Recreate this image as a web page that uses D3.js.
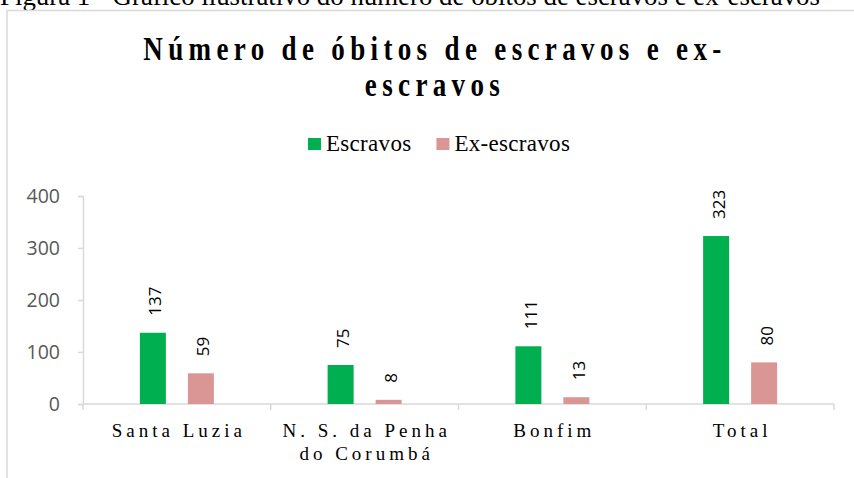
<!DOCTYPE html>
<html>
<head>
<meta charset="utf-8">
<script src="https://cdn.jsdelivr.net/npm/d3@7"></script>
<style>
  html, body { margin: 0; padding: 0; background: #fff; }
  svg { display: block; }
</style>
</head>
<body>
<svg id="chart" width="854" height="478"></svg>
<script>
const categories = ["Santa Luzia", "N. S. da Penha|do Corumbá", "Bonfim", "Total"];
const seriesNames = ["Escravos", "Ex-escravos"];
const escravos = [137, 75, 111, 323];
const exEscravos = [59, 8, 13, 80];
const yTicks = [0, 100, 200, 300, 400];
const colors = ["#00B050", "#DA9694"];
const caption = "Figura 1 - Gráfico ilustrativo do número de óbitos de escravos e ex-escravos";
const titleLines = ["Número de óbitos de escravos e ex-", "escravos"];

const svg = d3.select("#chart");
const serif = "'Liberation Serif', 'Times New Roman', serif";
const sans = "'Open Sans', 'Liberation Sans', sans-serif";

// caption (cut at top)
const cap = svg.append("text").attr("x", 0).attr("y", 5)
  .attr("font-family", serif).attr("font-size", 28).attr("fill", "#000")
  .text(caption);
cap.attr("textLength", 820).attr("lengthAdjust", "spacingAndGlyphs");

// chart border
svg.append("rect").attr("x", 7).attr("y", 10.5).attr("width", 860).attr("height", 480)
  .attr("fill", "none").attr("stroke", "#D9D9D9").attr("stroke-width", 1.5);

// title (slightly condensed glyphs, wide tracking)
titleLines.forEach((t, i) => {
  svg.append("text")
    .attr("transform", `translate(435,${60 + i * 36}) scale(0.82,1)`)
    .attr("text-anchor", "middle")
    .attr("font-family", serif).attr("font-weight", "bold")
    .attr("font-size", 33).attr("letter-spacing", 6.5)
    .attr("fill", "#000").text(t);
});

// legend
const legend = svg.append("g");
let lx = 308;
seriesNames.forEach((s, i) => {
  legend.append("rect").attr("x", lx).attr("y", 138).attr("width", 13).attr("height", 12)
    .attr("fill", colors[i]);
  const tx = legend.append("text").attr("x", lx + 18).attr("y", 151)
    .attr("font-family", serif).attr("font-size", 23).attr("letter-spacing", 0.3)
    .attr("fill", "#000").text(s);
  lx += 18 + tx.node().getComputedTextLength() + 25;
});

// scales
const x = d3.scaleBand().domain(categories).range([83, 834]).padding(0);
const inner = d3.scaleBand().domain(seriesNames).range([-37, 37]).paddingInner(22 / 48).paddingOuter(0);
const y = d3.scaleLinear().domain([0, 400]).range([404, 196]);

// y axis
const yAxis = svg.append("g").attr("transform", "translate(83,0)")
  .call(d3.axisLeft(y).tickValues(yTicks).tickSize(5).tickPadding(18).tickFormat(d3.format("d")));
yAxis.select(".domain").attr("stroke", "#D9D9D9").attr("stroke-width", 1.5);
yAxis.selectAll(".tick line").attr("stroke", "#D9D9D9").attr("stroke-width", 1.5);
yAxis.selectAll(".tick text").attr("font-family", sans).attr("font-size", 19.5).attr("fill", "#595959");

// x axis line & boundary ticks
const xg = svg.append("g");
xg.append("line").attr("x1", x.range()[0]).attr("x2", x.range()[1]).attr("y1", y(0)).attr("y2", y(0))
  .attr("stroke", "#D9D9D9").attr("stroke-width", 1.5);
const bounds = categories.map(c => x(c)).concat([x.range()[1]]);
xg.selectAll("line.b").data(bounds).join("line").attr("class", "b")
  .attr("x1", d => d).attr("x2", d => d).attr("y1", y(0)).attr("y2", y(0) + 6)
  .attr("stroke", "#D9D9D9").attr("stroke-width", 1.5);

// category labels
categories.forEach(c => {
  const lines = c.split("|");
  const cx = x(c) + x.bandwidth() / 2 + 2;
  const t = svg.append("text").attr("text-anchor", "middle")
    .attr("font-family", serif).attr("font-size", 19).attr("letter-spacing", 4).attr("fill", "#000");
  lines.forEach((l, i) => {
    t.append("tspan").attr("x", cx).attr("y", 437 + i * 23).text(l);
  });
});

// bars
const data = categories.map((c, i) => ({ c, vals: [escravos[i], exEscravos[i]] }));
const groups = svg.selectAll("g.cat").data(data).join("g").attr("class", "cat")
  .attr("transform", d => `translate(${x(d.c) + x.bandwidth() / 2},0)`);
groups.selectAll("rect").data(d => d.vals.map((v, j) => ({ s: seriesNames[j], v, j })))
  .join("rect")
  .attr("x", d => inner(d.s)).attr("width", inner.bandwidth())
  .attr("y", d => y(d.v)).attr("height", d => y(0) - y(d.v))
  .attr("fill", d => colors[d.j]);
groups.selectAll("text.val").data(d => d.vals.map((v, j) => ({ s: seriesNames[j], v, j })))
  .join("text").attr("class", "val")
  .attr("transform", d => `translate(${inner(d.s) + inner.bandwidth() / 2 + 2},${y(d.v) - 17}) rotate(-90)`)
  .attr("text-anchor", "start").attr("dominant-baseline", "central")
  .attr("font-family", sans).attr("font-size", 17).attr("fill", "#000")
  .text(d => d.v);
</script>
</body>
</html>
